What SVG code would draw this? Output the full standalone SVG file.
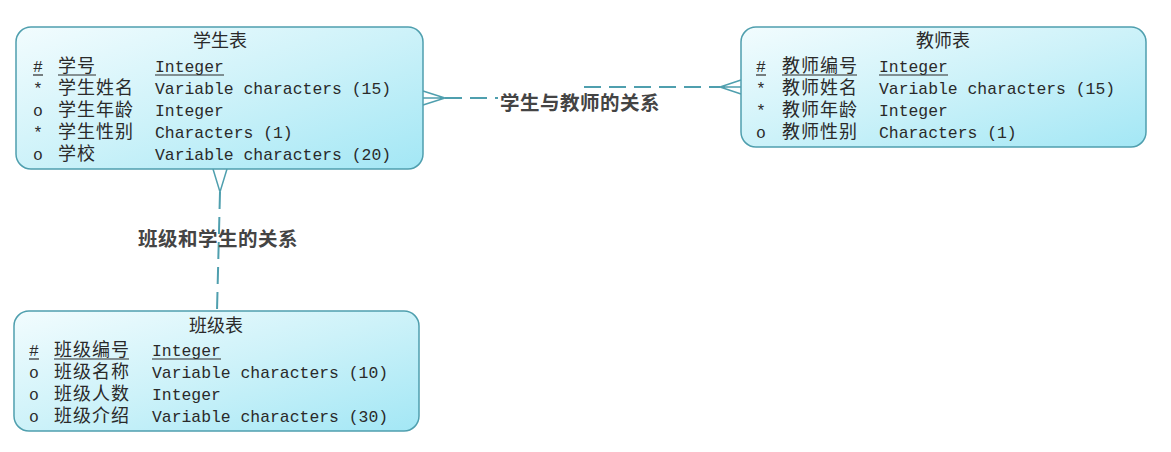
<svg xmlns="http://www.w3.org/2000/svg" width="1171" height="452" viewBox="0 0 1171 452">
<defs>
<linearGradient id="g" x1="0" y1="0" x2="1" y2="1">
<stop offset="0" stop-color="#f2fcfe"/>
<stop offset="0.5" stop-color="#cdf2f9"/>
<stop offset="1" stop-color="#a3e7f5"/>
</linearGradient>
<style>
.box{fill:url(#g);stroke:#4f9fae;stroke-width:1.5}
.cjk{font-family:"Noto Sans CJK SC",sans-serif;font-size:18px;fill:#2a2a2a;letter-spacing:1px}
.mono{font-family:"Liberation Mono",monospace;font-size:16.4px;fill:#2a2a2a}
.title{font-family:"Noto Sans CJK SC",sans-serif;font-size:18px;fill:#2a2a2a;text-anchor:middle}
.lbl{font-family:"Noto Sans CJK SC",sans-serif;font-size:19.5px;fill:#444;font-weight:bold;letter-spacing:0.5px}
.ul{stroke:#2a2a2a;stroke-width:1.2}
.dash{fill:none;stroke:#4f9fae;stroke-width:2;stroke-dasharray:17 8}
.cf{fill:none;stroke:#4f9fae;stroke-width:1.5}
</style>
</defs>
<rect width="1171" height="452" fill="#fff"/>
<g id="connectors">
<path class="dash" d="M445,98 H582 V87 H720"/>
<path class="cf" d="M423,91 L445,98 L423,105 M423,98 H445"/>
<path class="cf" d="M741,80 L720,87 L741,94 M741,87 H720"/>
<rect x="498" y="92" width="164" height="22" fill="#fff"/>
<text class="lbl" x="500" y="110">学生与教师的关系</text>
<path class="dash" d="M220,192 L217,311" stroke-dasharray="15 8"/>
<path class="cf" d="M213,169 L220,192 L227,169"/>
<text class="lbl" x="138" y="246">班级和学生的关系</text>
</g>
<g id="student">
<rect class="box" x="16" y="27" width="407" height="142" rx="15"/>
<text class="title" x="220" y="47">学生表</text>
<text class="mono" x="33" y="72">#</text><text class="cjk" x="58" y="72">学号</text><text class="mono" x="155" y="72">Integer</text>
<line class="ul" x1="33" y1="75" x2="43" y2="75"/><line class="ul" x1="58" y1="75" x2="96" y2="75"/><line class="ul" x1="155" y1="75" x2="224" y2="75"/>
<text class="mono" x="33" y="94">*</text><text class="cjk" x="58" y="94">学生姓名</text><text class="mono" x="155" y="94">Variable characters (15)</text>
<text class="mono" x="33" y="116">o</text><text class="cjk" x="58" y="116">学生年龄</text><text class="mono" x="155" y="116">Integer</text>
<text class="mono" x="33" y="138">*</text><text class="cjk" x="58" y="138">学生性别</text><text class="mono" x="155" y="138">Characters (1)</text>
<text class="mono" x="33" y="160">o</text><text class="cjk" x="58" y="160">学校</text><text class="mono" x="155" y="160">Variable characters (20)</text>
</g>
<g id="teacher">
<rect class="box" x="741" y="27" width="405" height="120" rx="15"/>
<text class="title" x="943" y="47">教师表</text>
<text class="mono" x="756" y="72">#</text><text class="cjk" x="782" y="72">教师编号</text><text class="mono" x="879" y="72">Integer</text>
<line class="ul" x1="756" y1="75" x2="766" y2="75"/><line class="ul" x1="782" y1="75" x2="857" y2="75"/><line class="ul" x1="879" y1="75" x2="948" y2="75"/>
<text class="mono" x="756" y="94">*</text><text class="cjk" x="782" y="94">教师姓名</text><text class="mono" x="879" y="94">Variable characters (15)</text>
<text class="mono" x="756" y="116">*</text><text class="cjk" x="782" y="116">教师年龄</text><text class="mono" x="879" y="116">Integer</text>
<text class="mono" x="756" y="138">o</text><text class="cjk" x="782" y="138">教师性别</text><text class="mono" x="879" y="138">Characters (1)</text>
</g>
<g id="class">
<rect class="box" x="14" y="311" width="405" height="120" rx="15"/>
<text class="title" x="216" y="332">班级表</text>
<text class="mono" x="29" y="356">#</text><text class="cjk" x="54" y="356">班级编号</text><text class="mono" x="152" y="356">Integer</text>
<line class="ul" x1="29" y1="359" x2="39" y2="359"/><line class="ul" x1="54" y1="359" x2="129" y2="359"/><line class="ul" x1="152" y1="359" x2="221" y2="359"/>
<text class="mono" x="29" y="378">o</text><text class="cjk" x="54" y="378">班级名称</text><text class="mono" x="152" y="378">Variable characters (10)</text>
<text class="mono" x="29" y="400">o</text><text class="cjk" x="54" y="400">班级人数</text><text class="mono" x="152" y="400">Integer</text>
<text class="mono" x="29" y="422">o</text><text class="cjk" x="54" y="422">班级介绍</text><text class="mono" x="152" y="422">Variable characters (30)</text>
</g>
</svg>
